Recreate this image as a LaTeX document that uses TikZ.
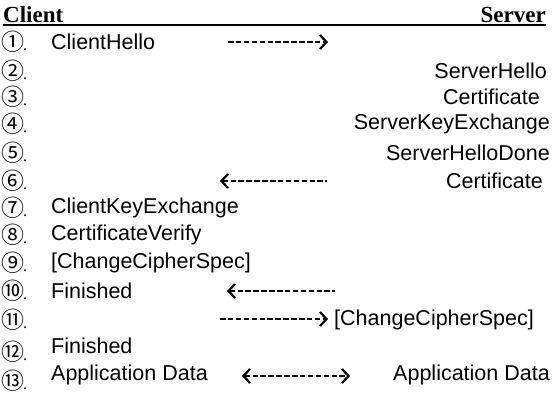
\documentclass[tikz,border=0pt]{standalone}
\usepackage{fontspec}
\setmainfont{Liberation Sans}
\newfontfamily\hdrfont{Liberation Serif}
\newfontfamily\numfont{Noto Sans CJK SC}
\newcommand{\stepno}[1]{{\fontsize{23}{25}\selectfont #1}\kern-1pt{\fontsize{14}{16}\selectfont .}}
\usetikzlibrary{arrows.meta}
\begin{document}
\begin{tikzpicture}[x=1pt,y=1pt,
  hdr/.style={font=\hdrfont\bfseries\fontsize{23}{24}\selectfont, inner sep=0pt},
  num/.style={font=\numfont, inner sep=0pt, anchor=west},
  lmsg/.style={font=\fontsize{21.5}{24}\selectfont, inner sep=0pt, anchor=west},
  rmsg/.style={font=\fontsize{21.5}{24}\selectfont, inner sep=0pt, anchor=east},
  flow/.style={line width=2.6pt, dash pattern=on 5.5pt off 2.4pt},
  tip/.tip={Straight Barb[length=6.5pt,width=14pt,line width=2.2pt]}]
\useasboundingbox (0,0) rectangle (553,-393);
% header
\node[hdr, anchor=base west] (client) at (3,-22.5) {Client};
\node[hdr, anchor=base east] (server) at (546,-23) {Server};
\draw[line width=1.8pt] (client.base west) ++(0,-2.8) coordinate (ul1) -- (ul1 -| server.east);
% step numbers
\node[num] (n1) at (1,-42) {\stepno{①}};
\node[num] (n2) at (1,-71) {\stepno{②}};
\node[num] (n3) at (1,-97) {\stepno{③}};
\node[num] (n4) at (1,-124) {\stepno{④}};
\node[num] (n5) at (1,-153) {\stepno{⑤}};
\node[num] (n6) at (1,-181) {\stepno{⑥}};
\node[num] (n7) at (1,-208) {\stepno{⑦}};
\node[num] (n8) at (1,-235) {\stepno{⑧}};
\node[num] (n9) at (1,-263) {\stepno{⑨}};
\node[num] (n10) at (1,-291) {\stepno{⑩}};
\node[num] (n11) at (1,-320) {\stepno{⑪}};
\node[num] (n12) at (1,-352) {\stepno{⑫}};
\node[num] (n13) at (1,-381) {\stepno{⑬}};
% client messages
\node[lmsg] (c1) at (51,-42) {ClientHello};
\node[lmsg] (c7) at (51,-208) {ClientKeyExchange};
\node[lmsg] (c8) at (51,-235) {CertificateVerify};
\node[lmsg] (c9) at (51,-263) {[ChangeCipherSpec]};
\node[lmsg] (c10) at (51,-291) {Finished};
\node[lmsg] (c12) at (51,-346) {Finished};
\node[lmsg] (c13) at (51,-375) {Application Data};
% server messages
\node[rmsg] (s2) at (547,-71) {ServerHello};
\node[rmsg] (s3) at (540,-97) {Certificate};
\node[rmsg] (s4) at (550,-124) {ServerKeyExchange};
\node[rmsg] (s5) at (550,-153) {ServerHelloDone};
\node[rmsg] (s6) at (543,-181) {Certificate};
\node[lmsg] (s11) at (334,-320) {[ChangeCipherSpec]};
\node[rmsg] (s13) at (550,-375) {Application Data};
% flows
\coordinate (a1) at (228,-42);  \coordinate (b1) at (328,-42);
\coordinate (a6) at (220,-181); \coordinate (b6) at (327,-181);
\coordinate (a10) at (227,-291); \coordinate (b10) at (335,-291);
\coordinate (a11) at (220,-319); \coordinate (b11) at (328,-319);
\coordinate (a13) at (242,-376); \coordinate (b13) at (350,-376);
\draw[flow, -tip] (a1) -- (b1);
\draw[flow, tip-] (a6) -- (b6);
\draw[flow, tip-] (a10) -- (b10);
\draw[flow, -tip] (a11) -- (b11);
\draw[flow, tip-tip] (a13) -- (b13);
\end{tikzpicture}
\end{document}
